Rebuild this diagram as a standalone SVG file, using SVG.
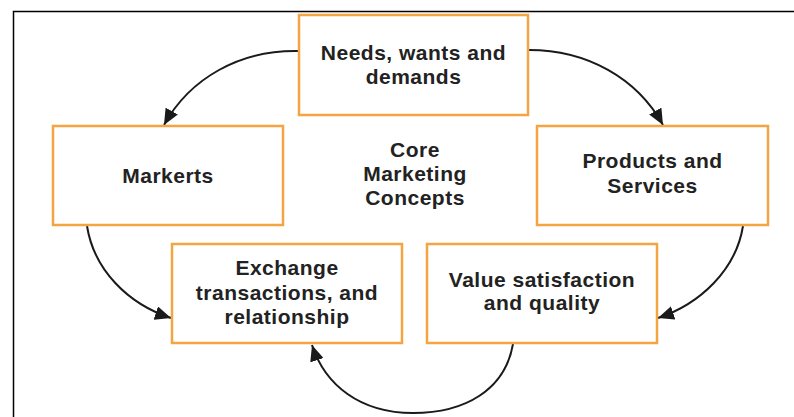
<svg xmlns="http://www.w3.org/2000/svg" width="794" height="417" viewBox="0 0 794 417">
<style>
.box{fill:#ffffff;stroke:#f4a442;stroke-width:2.5}
.t{font-family:"Liberation Sans",Arial,sans-serif;font-weight:bold;font-size:21px;fill:#222222;text-anchor:middle;letter-spacing:0.5px}
.c{fill:none;stroke:#1a1a1a;stroke-width:2}
</style>
<defs>
<marker id="ah" markerWidth="18" markerHeight="14" refX="16" refY="7" orient="auto" markerUnits="userSpaceOnUse">
<path d="M0,0 L16,7 L0,14 Z" fill="#1a1a1a"/>
</marker>
</defs>
<rect x="0" y="0" width="794" height="417" fill="#ffffff"/>
<g id="frame">
<path d="M13.5,417 L13.5,11.5 L794,11.5" fill="none" stroke="#000000" stroke-width="1.5"/>
</g>
<g id="connectors">
<path class="c" d="M298,51 C240,50 190,78 164,125" marker-end="url(#ah)"/>
<path class="c" d="M529,50 C587,50 637,78 663,125" marker-end="url(#ah)"/>
<path class="c" d="M87,226 C94,270 128,304 171,318" marker-end="url(#ah)"/>
<path class="c" d="M743,226 C736,270 700,304 658,318" marker-end="url(#ah)"/>
<path class="c" d="M513,344 C505,390 465,413 413,413 C360,413 325,385 312,345" marker-end="url(#ah)"/>
</g>
<g id="needs">
<rect class="box" x="299" y="15" width="229" height="100"/>
<text class="t" x="413.5" y="60">Needs, wants and</text>
<text class="t" x="413.5" y="84">demands</text>
</g>
<g id="markets">
<rect class="box" x="53" y="126" width="230" height="99"/>
<text class="t" x="168" y="183">Markerts</text>
</g>
<g id="products">
<rect class="box" x="537" y="126" width="231" height="99"/>
<text class="t" x="652.5" y="168">Products and</text>
<text class="t" x="652.5" y="193">Services</text>
</g>
<g id="core">
<text class="t" x="415" y="157">Core</text>
<text class="t" x="415" y="181">Marketing</text>
<text class="t" x="415" y="205">Concepts</text>
</g>
<g id="exchange">
<rect class="box" x="172" y="244" width="230" height="99"/>
<text class="t" x="287" y="275">Exchange</text>
<text class="t" x="287" y="300">transactions, and</text>
<text class="t" x="287" y="324">relationship</text>
</g>
<g id="value">
<rect class="box" x="427" y="244" width="230" height="99"/>
<text class="t" x="542" y="287">Value satisfaction</text>
<text class="t" x="542" y="310">and quality</text>
</g>
</svg>
